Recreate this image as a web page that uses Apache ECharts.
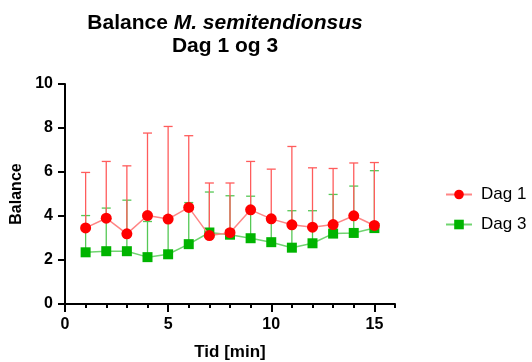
<!DOCTYPE html>
<html>
<head>
<meta charset="utf-8">
<script src="https://cdn.jsdelivr.net/npm/echarts@6/dist/echarts.min.js"></script>
<style>
  html, body { margin: 0; padding: 0; background: #fff; }
  #chart { width: 532px; height: 362px; }
</style>
</head>
<body>
<div id="chart"></div>
<script>
// Time points (minutes)
const minutes = [1, 2, 3, 4, 5, 6, 7, 8, 9, 10, 11, 12, 13, 14, 15];

// Day 1: mean balance score and upper error (SD)
const dag1Mean = [3.46, 3.90, 3.19, 4.02, 3.86, 4.39, 3.11, 3.24, 4.28, 3.87, 3.60, 3.49, 3.61, 4.01, 3.57];
const dag1SD   = [2.52, 2.58, 3.09, 3.75, 4.21, 3.26, 2.39, 2.26, 2.20, 2.26, 3.56, 2.70, 2.55, 2.40, 2.86];

// Day 3: mean balance score and upper error (SD)
const dag3Mean = [2.35, 2.40, 2.40, 2.13, 2.26, 2.72, 3.25, 3.15, 2.99, 2.81, 2.56, 2.76, 3.20, 3.23, 3.45];
const dag3SD   = [1.67, 1.96, 2.32, 1.62, 1.60, 1.89, 1.84, 1.77, 1.91, 1.06, 1.68, 1.48, 1.78, 2.13, 2.61];

const yTicks = [0, 2, 4, 6, 8, 10];
const xTicks = [0, 5, 10, 15];

const FONT = 'Arial, "Liberation Sans", sans-serif';

const RED = '#ff0000', RED_LINE = '#ff8585', RED_ERR = '#ff5c5c';
const GREEN = '#00b400', GREEN_LINE = '#70d470', GREEN_ERR = '#55c855';

function pairs(means) { return minutes.map((m, i) => [m, means[i]]); }
function errData(means, sds) { return minutes.map((m, i) => [m, means[i], means[i] + sds[i]]); }

// Upper-only error bar with a horizontal cap
function errorBar(color) {
  return function (params, api) {
    const x = api.value(0);
    const base = api.coord([x, api.value(1)]);
    const top = api.coord([x, api.value(2)]);
    const half = 4.5;
    return {
      type: 'group',
      children: [
        { type: 'line', shape: { x1: base[0], y1: base[1], x2: top[0], y2: top[1] },
          style: { stroke: color, lineWidth: 1.3 } },
        { type: 'line', shape: { x1: top[0] - half, y1: top[1], x2: top[0] + half, y2: top[1] },
          style: { stroke: color, lineWidth: 1.3 } }
      ]
    };
  };
}

const chart = echarts.init(document.getElementById('chart'), null, { renderer: 'canvas' });

const gridTop = 84, gridBottom = 58, gridLeft = 65, gridRight = 137;
const plotW = 532 - gridLeft - gridRight;
const xMax = 16;

chart.setOption({
  animation: false,
  textStyle: { fontFamily: FONT },
  title: {
    left: 220, top: 7, textAlign: 'center',
    text: '{b|Balance }{i|M. semitendionsus}\n{b|Dag 1 og 3}',
    textStyle: {
      fontFamily: FONT, fontSize: 21, fontWeight: 'bold', color: '#000', lineHeight: 23,
      rich: {
        b: { fontFamily: FONT, fontSize: 21, fontWeight: 'bold', color: '#000', lineHeight: 23 },
        i: { fontFamily: FONT, fontSize: 21, fontWeight: 'bold', fontStyle: 'italic', color: '#000', lineHeight: 23 }
      }
    }
  },
  legend: {
    orient: 'vertical', left: 440, top: 181,
    itemWidth: 26, itemHeight: 12, itemGap: 13,
    data: ['Dag 1', 'Dag 3'],
    textStyle: { fontFamily: FONT, fontSize: 17, color: '#000', padding: [0, 0, 0, 4] }
  },
  grid: [
    { left: gridLeft, right: gridRight, top: gridTop, bottom: gridBottom, outerBoundsMode: 'none', containLabel: false },
    // companion grid holding the labelled major ticks (0..15)
    { left: gridLeft, width: plotW * 15 / xMax, top: gridTop, bottom: gridBottom, outerBoundsMode: 'none', containLabel: false }
  ],
  xAxis: [
    {
      type: 'value', gridIndex: 0, min: 0, max: xMax, interval: 1,
      name: 'Tid [min]', nameLocation: 'middle', nameGap: 40,
      nameTextStyle: { fontFamily: FONT, fontSize: 17, fontWeight: 'bold', color: '#000' },
      axisLine: { show: true, onZero: false, lineStyle: { color: '#000', width: 2 } },
      axisTick: { show: true, length: 4, lineStyle: { color: '#000', width: 2 } },
      axisLabel: { show: false },
      splitLine: { show: false }
    },
    {
      type: 'value', gridIndex: 1, min: 0, max: 15, interval: 5,
      axisLine: { show: false },
      axisTick: { show: true, length: 8, lineStyle: { color: '#000', width: 2 } },
      axisLabel: { show: true, margin: 13, fontFamily: FONT, fontSize: 16, fontWeight: 'bold', color: '#000',
        formatter: v => (xTicks.indexOf(v) >= 0 ? String(v) : '') },
      splitLine: { show: false }
    }
  ],
  yAxis: [
    {
      type: 'value', gridIndex: 0, min: 0, max: 10, interval: 2,
      name: 'Balance', nameLocation: 'middle', nameGap: 38, nameRotate: 90,
      nameTextStyle: { fontFamily: FONT, fontSize: 16, fontWeight: 'bold', color: '#000' },
      axisLine: { show: true, onZero: false, lineStyle: { color: '#000', width: 2 } },
      axisTick: { show: true, length: 7, lineStyle: { color: '#000', width: 2 } },
      axisLabel: { margin: 12, fontFamily: FONT, fontSize: 16, fontWeight: 'bold', color: '#000',
        formatter: v => (yTicks.indexOf(v) >= 0 ? String(v) : '') },
      splitLine: { show: false }
    },
    {
      type: 'value', gridIndex: 1, min: 0, max: 10, show: false
    }
  ],
  series: [
    {
      name: 'Dag 3 err', type: 'custom', xAxisIndex: 0, yAxisIndex: 0, z: 2,
      renderItem: errorBar(GREEN_ERR), data: errData(dag3Mean, dag3SD), silent: true
    },
    {
      name: 'Dag 1 err', type: 'custom', xAxisIndex: 0, yAxisIndex: 0, z: 3,
      renderItem: errorBar(RED_ERR), data: errData(dag1Mean, dag1SD), silent: true
    },
    {
      name: 'Dag 3', type: 'line', xAxisIndex: 0, yAxisIndex: 0, z: 4,
      data: pairs(dag3Mean), symbol: 'rect', symbolSize: 10,
      itemStyle: { color: GREEN }, lineStyle: { color: GREEN_LINE, width: 1.5 }
    },
    {
      name: 'Dag 1', type: 'line', xAxisIndex: 0, yAxisIndex: 0, z: 5,
      data: pairs(dag1Mean), symbol: 'circle', symbolSize: 11,
      itemStyle: { color: RED }, lineStyle: { color: RED_LINE, width: 1.5 }
    }
  ]
});
</script>
</body>
</html>
